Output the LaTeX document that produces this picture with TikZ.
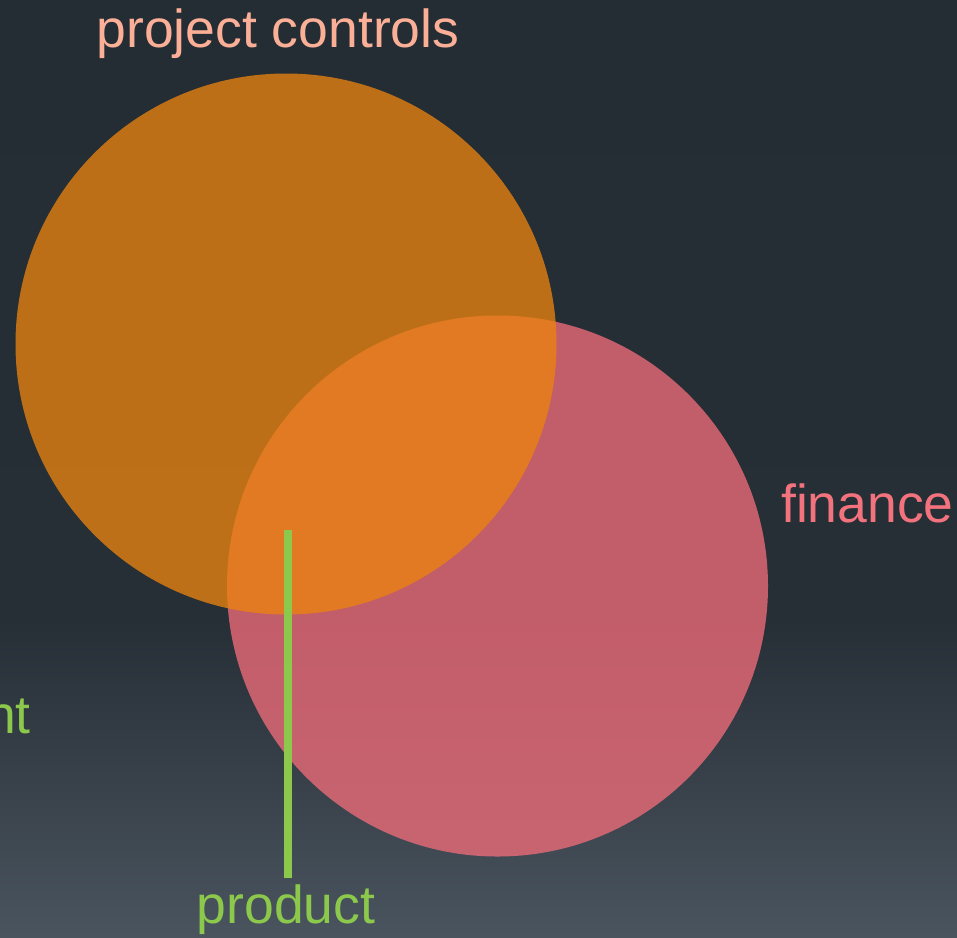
\documentclass[tikz,border=0pt]{standalone}
\usepackage{fontspec}
\setmainfont{Liberation Sans}
\begin{document}
\definecolor{bgtop}{RGB}{36,44,52}
\definecolor{bgmid}{RGB}{38,46,54}
\definecolor{bgbot}{RGB}{74,84,94}
\definecolor{orangefill}{RGB}{235,132,14}
\definecolor{pinkfill}{RGB}{242,108,122}
\definecolor{salmon}{RGB}{250,175,150}
\definecolor{pinktext}{RGB}{242,115,125}
\definecolor{greenc}{RGB}{140,200,75}
\tikzset{
  lbl/.style={font=\fontsize{53.5}{60}\selectfont, inner sep=0pt},
  circ/.style={circle, inner sep=0pt, minimum size=541pt, fill opacity=0.77}
}
\begin{tikzpicture}[x=1pt,y=-1pt]
\useasboundingbox (0,0) rectangle (957,937);
\shade[top color=bgtop, bottom color=bgmid] (0,0) rectangle (957,620);
\shade[top color=bgmid, bottom color=bgbot] (0,619.5) rectangle (957,937);
\node[circ, fill=pinkfill] (fin) at (497.5,586) {};
\node[circ, fill=orangefill] (pc) at (286,344) {};
\node[lbl, text=salmon, anchor=base] (pcl) at (278,47) {project controls};
\node[lbl, text=pinktext, anchor=base west] (finl) at (781,522) {finance};
\node[lbl, text=greenc, anchor=base east] (mgl) at (31,733) {nt};
\node[lbl, text=greenc, anchor=base] (prl) at (286,923) {product};
\coordinate (ptop) at (287.5,530);
\coordinate (pbot) at (287.5,878);
\draw[greenc, line width=8pt] (ptop) -- (pbot);
\end{tikzpicture}
\end{document}
